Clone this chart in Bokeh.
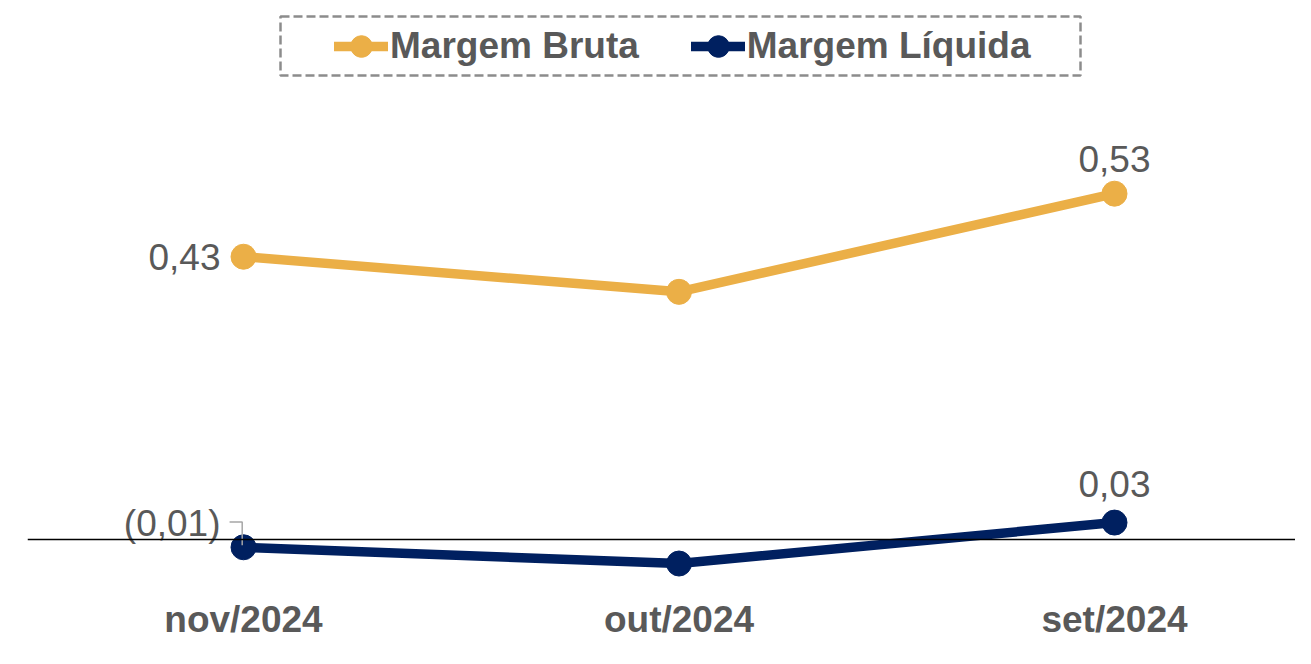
from bokeh.plotting import figure
from bokeh.models import (ColumnDataSource, Span, FixedTicker, Range1d, Legend,
                          LegendItem, BoxAnnotation)
from bokeh.core.properties import value
from bokeh.embed import file_html
from bokeh.resources import INLINE

# ---- data ----
months = ["nov/2024", "out/2024", "set/2024"]
margem_bruta = [0.435, 0.381, 0.532]
margem_liquida = [-0.012, -0.037, 0.026]
bruta_labels = ["0,43", "", "0,53"]
liquida_labels = ["(0,01)", "", "0,03"]

GOLD = "#EBAF47"
NAVY = "#002060"
GREY = "#595959"
FONT = "Liberation Sans"

xs = list(range(len(months)))
src = ColumnDataSource(dict(x=xs, bruta=margem_bruta, liq=margem_liquida,
                            bl=bruta_labels, ll=liquida_labels))

p = figure(width=1295, height=648, output_backend="svg", toolbar_location=None,
           x_range=Range1d(-0.496, 2.4156), y_range=Range1d(-0.0908, 0.8292),
           min_border_left=27, min_border_right=0, min_border_top=0,
           min_border_bottom=50)
p.outline_line_color = None
p.xgrid.visible = False
p.ygrid.visible = False
p.yaxis.visible = False
p.background_fill_color = "white"
p.border_fill_color = "white"

p.add_layout(Span(location=0, dimension="width", line_color="black", line_width=1.5))

l1 = p.line("x", "bruta", source=src, line_color=GOLD, line_width=9.5, line_cap="round")
c1 = p.scatter("x", "bruta", source=src, size=25, fill_color=GOLD, line_color=GOLD)
l2 = p.line("x", "liq", source=src, line_color=NAVY, line_width=9.5, line_cap="round")
c2 = p.scatter("x", "liq", source=src, size=25, fill_color=NAVY, line_color=NAVY)

# data labels: first point to the left, last point above
left = ColumnDataSource(dict(x=[xs[0], xs[0]], y=[margem_bruta[0], margem_liquida[0]],
                             t=[bruta_labels[0], liquida_labels[0]], yo=[0, -24]))
p.text("x", "y", text="t", source=left, text_align="right", text_baseline="middle",
       x_offset=-23, y_offset="yo", text_font=value(FONT), text_font_size="37px",
       text_color=GREY)
top = ColumnDataSource(dict(x=[xs[2], xs[2]], y=[margem_bruta[2], margem_liquida[2]],
                            t=[bruta_labels[2], liquida_labels[2]], yo=[-35, -39]))
p.text("x", "y", text="t", source=top, text_align="center", text_baseline="alphabetic",
       y_offset="yo", text_font=value(FONT), text_font_size="37px", text_color=GREY)

# leader line for the (0,01) label
x0, y0 = xs[0], margem_liquida[0]
p.line([x0 - 0.032, x0 - 0.003, x0 - 0.003], [y0 + 0.039, y0 + 0.039, y0 + 0.003],
       line_color="#A6A6A6", line_width=1.5)

# x axis
xa = p.xaxis[0]
xa.ticker = FixedTicker(ticks=xs)
xa.major_label_overrides = {i: m for i, m in enumerate(months)}
xa.axis_line_color = None
xa.major_tick_line_color = None
xa.minor_tick_line_color = None
xa.major_tick_out = 0
xa.major_tick_in = 0
xa.major_label_standoff = 0
xa.major_label_text_font = FONT
xa.major_label_text_font_size = "37px"
xa.major_label_text_font_style = "bold"
xa.major_label_text_color = GREY

# legend frame (dashed box); screen units are frame-relative, y upwards
p.add_layout(BoxAnnotation(left=253, right=1053, top=582, bottom=523,
                           left_units="screen", right_units="screen",
                           top_units="screen", bottom_units="screen",
                           fill_alpha=0, line_color="#8C8C8C", line_alpha=1,
                           line_width=2.5, line_dash="9 4"))

legend = Legend(items=[LegendItem(label="Margem Bruta", renderers=[l1, c1]),
                       LegendItem(label="Margem Líquida", renderers=[l2, c2])],
                orientation="horizontal", location=(307, 517))
legend.label_text_font = FONT
legend.label_text_font_size = "37px"
legend.label_text_font_style = "bold"
legend.label_text_color = GREY
legend.glyph_width = 54
legend.glyph_height = 70
legend.label_standoff = 2
legend.spacing = 52
legend.padding = 0
legend.border_line_alpha = 0
legend.background_fill_alpha = 0
legend.margin = 0
p.add_layout(legend)

open("out.html", "w").write(file_html(p, INLINE))
